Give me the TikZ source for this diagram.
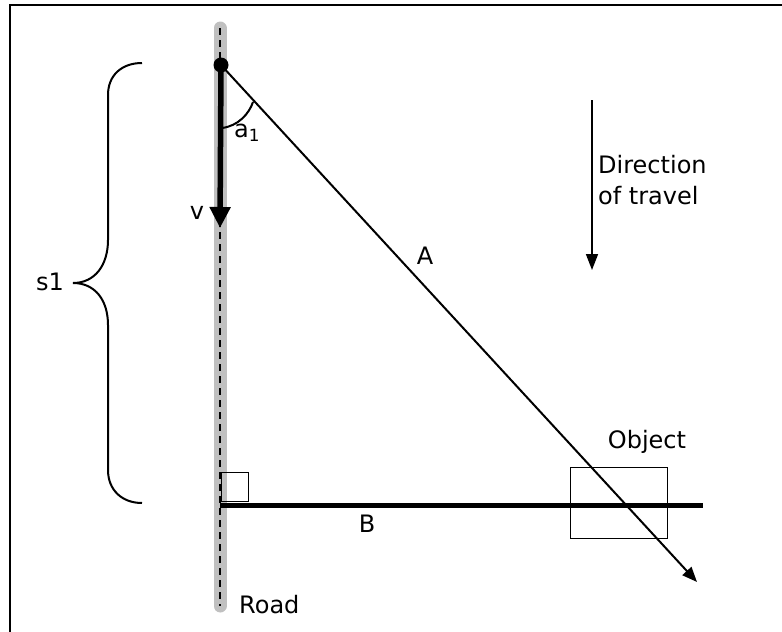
\documentclass[tikz,border=0pt]{standalone}
\usepackage{fontspec}
\setmainfont{DejaVu Sans}
\usetikzlibrary{arrows.meta}
\definecolor{roadgray}{RGB}{192,192,192}
\tikzset{
  roadband/.style={line width=13pt, draw=roadgray, line cap=round},
  centerline/.style={dash pattern=on 7pt off 5pt, line width=1.5pt},
  lbl/.style={font=\fontsize{24}{31}\selectfont, inner sep=0pt},
  thin/.style={line width=2pt},
  heavy/.style={line width=5.5pt},
}
\begin{document}
\begin{tikzpicture}[x=1pt,y=-1pt]
\useasboundingbox (0,0) rectangle (782,632);
\clip (0,0) rectangle (782,632);
\draw[line width=1.5pt] (10,5) rectangle (800,650);
% road
\coordinate (roadtop) at (220,28);
\coordinate (roadbot) at (220,606);
\draw[roadband] (roadtop) -- (roadbot);
\draw[centerline] (roadtop) -- (roadbot);
% car and velocity
\node[circle, fill, inner sep=0pt, minimum size=15pt] (car) at (221,65) {};
\coordinate (vtip) at (220,228);
\draw[heavy, -{Triangle[width=20pt,length=21pt]}] (car.center) -- (vtip);
\node[lbl] (vlabel) at (197,213) {v};
% line A
\coordinate (Aend) at (697,582);
\draw[thin, -{Triangle[width=12pt,length=15pt]}] (car.center) -- (Aend);
\node[lbl] (Alabel) at (425,256) {A};
% angle
\coordinate (arcA) at (253,102);
\coordinate (arcB) at (222,128);
\draw[thin] (arcA) .. controls (249,114) and (238,126) .. (arcB);
\node[lbl, anchor=west] (a1) at (234,133) {a\textsubscript{1}};
% line B
\coordinate (Bstart) at (220,505);
\coordinate (Bend) at (703,505);
\draw[line width=5pt] (Bstart) -- (Bend);
\node[lbl] (Blabel) at (367,524) {B};
% right angle
\node[draw, line width=1.4pt, minimum width=27pt, minimum height=29pt, inner sep=0pt, anchor=north west] (rightangle) at (221,472) {};
% object
\node[draw, line width=1.4pt, minimum width=97pt, minimum height=71pt, inner sep=0pt, anchor=north west] (object) at (570,467) {};
\node[lbl] (objlabel) at (647,442) {Object};
% road label
\node[lbl, anchor=west] (roadlabel) at (239,605) {Road};
% direction of travel
\coordinate (dirtop) at (592,100);
\coordinate (dirtip) at (592,270);
\draw[line width=1.6pt, -{Triangle[width=12pt,length=16pt]}] (dirtop) -- (dirtip);
\node[lbl, anchor=west, align=left] (dirlabel) at (598,180) {Direction\\of travel};
% brace
\coordinate (brtop) at (142,63);
\coordinate (brtip) at (73,283);
\coordinate (brbot) at (142,503);
\draw[thin] (brtop) .. controls (122,63) and (108,75) .. (108,95) -- (108,240)
  .. controls (108,265) and (95,283) .. (brtip)
  .. controls (95,283) and (108,300) .. (108,325) -- (108,470)
  .. controls (108,490) and (122,503) .. (brbot);
\node[lbl] (s1) at (50,282) {s1};
\end{tikzpicture}
\end{document}
